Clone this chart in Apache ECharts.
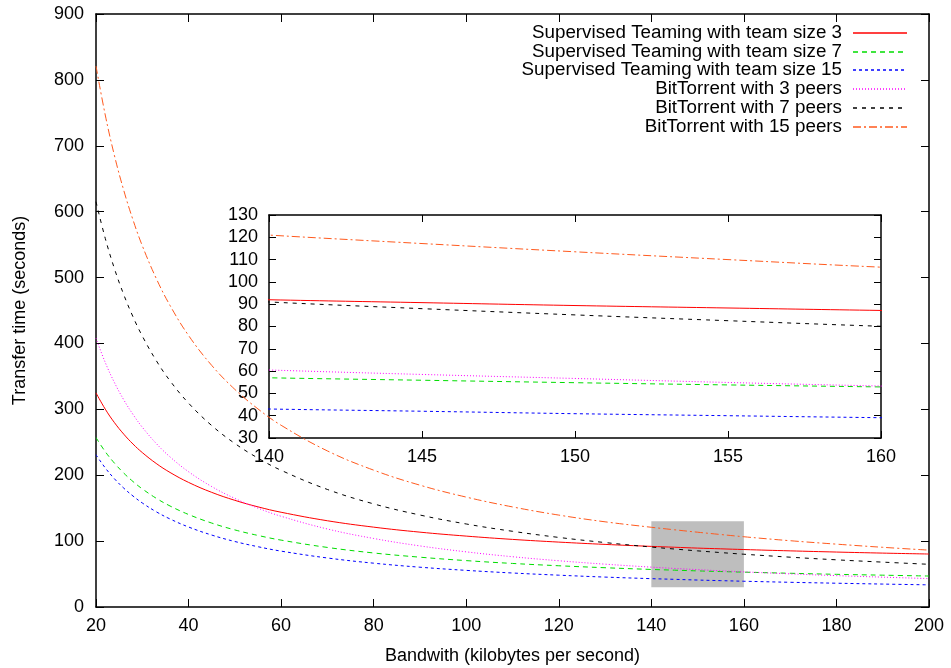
<!DOCTYPE html>
<html>
<head>
<meta charset="utf-8">
<script src="https://cdn.jsdelivr.net/npm/echarts@6/dist/echarts.min.js"></script>
<style>
html,body{margin:0;padding:0;background:#fff;}
#c{width:951px;height:668px;}
</style>
</head>
<body>
<div id="c"></div>
<script>
// Bandwidth samples (kilobytes per second)
const xs = [20,22,24,26,28,30,33,36,40,45,50,55,60,70,80,90,100,110,120,130,140,145,150,155,160,170,180,190,200];

// Transfer times (seconds)
const st3  = [325.0,300.3,279.7,262.3,247.3,234.4,217.9,204.2,189.1,174.0,161.9,152.0,143.8,130.9,121.2,113.6,107.6,102.6,98.5,95.0,92.0,90.7,89.4,88.3,87.2,85.2,83.4,81.8,80.4];
const st7  = [257.1,235.8,218.2,203.2,190.4,179.3,165.1,153.3,140.4,127.4,117.0,108.6,101.5,90.4,82.0,75.6,70.4,66.1,62.6,59.6,57.0,55.9,54.8,53.8,52.9,51.2,49.6,48.3,47.0];
const st15 = [231.1,211.1,194.5,180.4,168.4,157.9,144.6,133.6,121.4,109.2,99.4,91.5,84.8,74.4,66.5,60.4,55.6,51.6,48.3,45.4,43.0,42.0,40.9,40.0,39.1,37.5,36.1,34.8,33.6];
const bt3  = [408.0,371.1,340.4,314.4,292.2,272.9,248.3,227.8,205.3,182.8,164.8,150.0,137.7,118.4,104.0,92.7,83.7,76.3,70.2,65.0,60.5,58.5,56.7,54.9,53.3,50.3,47.6,45.3,43.1];
const bt7  = [615.1,559.5,513.2,474.0,440.4,411.3,374.2,343.3,309.4,275.4,248.2,226.0,207.5,178.4,156.5,139.6,126.0,114.9,105.6,97.8,91.0,88.0,85.2,82.6,80.1,75.6,71.6,68.1,64.8];
const bt15 = [821.1,746.7,684.7,632.3,587.4,548.4,498.9,457.6,412.1,366.7,330.3,300.6,275.8,236.9,207.7,184.9,166.8,151.9,139.5,129.3,121.0,117.2,113.5,110.0,106.6,100.6,95.4,90.6,86.3];

const seriesNames = [
  'Supervised Teaming with team size 3',
  'Supervised Teaming with team size 7',
  'Supervised Teaming with team size 15',
  'BitTorrent with 3 peers',
  'BitTorrent with 7 peers',
  'BitTorrent with 15 peers'
];
const seriesValues = [st3, st7, st15, bt3, bt7, bt15];

// Zoom window shown in the inset
const zoomX = [140, 160];
const zoomY = [30, 130];

// Axis ranges / ticks
const mainX = {min: 20, max: 200, interval: 20};
const mainY = {min: 0, max: 900, interval: 100};
const insetX = {min: 140, max: 160, interval: 5};
const insetY = {min: 30, max: 130, interval: 10};

const colors = ['#ff0000', '#00dd00', '#0000ff', '#ff00ff', '#000000', '#ff5a1e'];
const dashes = ['solid', [5, 4], [3, 3], [1, 2], [4, 5], [8, 3, 2, 3]];

const FONT = 'Liberation Sans, Arial, Helvetica, sans-serif';
const black = '#000';

function mkAxis(base, opts) {
  return Object.assign({
    type: 'value',
    min: base.min, max: base.max, interval: base.interval,
    splitLine: {show: false},
    axisLine: {show: true, onZero: false, lineStyle: {color: black, width: 1.5}},
    axisTick: {show: true, inside: true, length: 8, lineStyle: {color: black, width: 1}},
    axisLabel: {show: true, color: black, fontSize: 18, fontFamily: FONT}
  }, opts);
}

const xAxes = [
  mkAxis(mainX, {gridIndex: 0, position: 'bottom',
    axisLabel: {color: black, fontSize: 18, fontFamily: FONT, margin: 10},
    name: 'Bandwith (kilobytes per second)', nameLocation: 'middle', nameGap: 40,
    nameTextStyle: {color: black, fontSize: 18, fontFamily: FONT}}),
  mkAxis(mainX, {gridIndex: 0, position: 'top', axisLabel: {show: false}}),
  mkAxis(insetX, {gridIndex: 1, position: 'bottom',
    axisTick: {show: true, inside: true, length: 7, lineStyle: {color: black}},
    axisLabel: {color: black, fontSize: 18, fontFamily: FONT, margin: 10}}),
  mkAxis(insetX, {gridIndex: 1, position: 'top', axisLabel: {show: false},
    axisTick: {show: true, inside: true, length: 7, lineStyle: {color: black}}})
];
const yAxes = [
  mkAxis(mainY, {gridIndex: 0, position: 'left',
    axisLabel: {color: black, fontSize: 18, fontFamily: FONT, margin: 12},
    name: 'Transfer time (seconds)', nameLocation: 'middle', nameGap: 67, nameRotate: 90,
    nameTextStyle: {color: black, fontSize: 18, fontFamily: FONT}}),
  mkAxis(mainY, {gridIndex: 0, position: 'right', axisLabel: {show: false}}),
  mkAxis(insetY, {gridIndex: 1, position: 'left',
    axisTick: {show: true, inside: true, length: 7, lineStyle: {color: black}},
    axisLabel: {color: black, fontSize: 18, fontFamily: FONT, margin: 11}}),
  mkAxis(insetY, {gridIndex: 1, position: 'right', axisLabel: {show: false},
    axisTick: {show: true, inside: true, length: 7, lineStyle: {color: black}}})
];

const series = [];
// gray box marking the zoomed region
series.push({
  name: 'zoombox', type: 'line', xAxisIndex: 0, yAxisIndex: 0, z: 1,
  data: [[zoomX[0], zoomY[0]]], symbol: 'none', lineStyle: {width: 0, opacity: 0},
  silent: true,
  markArea: {silent: true, itemStyle: {color: '#bebebe', opacity: 1},
    data: [[{coord: [zoomX[0], zoomY[0]]}, {coord: [zoomX[1], zoomY[1]]}]]}
});
seriesNames.forEach((n, i) => {
  const data = xs.map((x, k) => [x, seriesValues[i][k]]);
  series.push({
    name: n, type: 'line', xAxisIndex: 0, yAxisIndex: 0, z: 3, color: colors[i],
    data, symbol: 'none', showSymbol: false, smooth: 0.4, clip: true,
    lineStyle: {color: colors[i], width: 1, type: dashes[i]},
    itemStyle: {color: colors[i]}
  });
  series.push({
    name: n + ' (inset)', type: 'line', xAxisIndex: 2, yAxisIndex: 2, z: 3, color: colors[i],
    data, symbol: 'none', showSymbol: false, smooth: 0.4, clip: true,
    lineStyle: {color: colors[i], width: 1, type: dashes[i]},
    itemStyle: {color: colors[i]}
  });
});

// legend: text from the legend component, key samples drawn beside it
const LEG_RIGHT = 44, LEG_W = 54, LEG_ROW_H = 19;
const legendTops = [23, 42, 60, 79, 98, 117];
const legends = seriesNames.map((n, i) => ({
  show: true,
  data: [{name: n, icon: 'path://M0,0H54V1H0Z'}],
  right: LEG_RIGHT, top: legendTops[i], orient: 'horizontal', align: 'right',
  padding: 0, itemWidth: LEG_W, itemHeight: 1, selectedMode: false,
  itemStyle: {opacity: 0},
  textStyle: {color: black, fontSize: 18.8, fontFamily: FONT, lineHeight: LEG_ROW_H, padding: [0, 6, 0, 0]}
}));
const W = 951;
const keySamples = seriesNames.map((n, i) => {
  const y = Math.round(legendTops[i] + LEG_ROW_H / 2);
  return {
    type: 'line', silent: true, z: 10,
    shape: {x1: W - LEG_RIGHT - LEG_W, y1: y, x2: W - LEG_RIGHT, y2: y},
    style: {stroke: colors[i], lineWidth: 1.3, lineDash: dashes[i] === 'solid' ? null : dashes[i]}
  };
});

const chart = echarts.init(document.getElementById('c'), null, {renderer: 'canvas'});
chart.setOption({
  animation: false,
  backgroundColor: '#fff',
  grid: [
    {left: 96, right: 22, top: 14, bottom: 61, show: false, outerBoundsMode: 'none', containLabel: false},
    {left: 269, right: 70, top: 215, bottom: 230, show: false, outerBoundsMode: 'none', containLabel: false}
  ],
  legend: legends,
  graphic: keySamples,
  xAxis: xAxes,
  yAxis: yAxes,
  series
});
</script>
</body>
</html>
